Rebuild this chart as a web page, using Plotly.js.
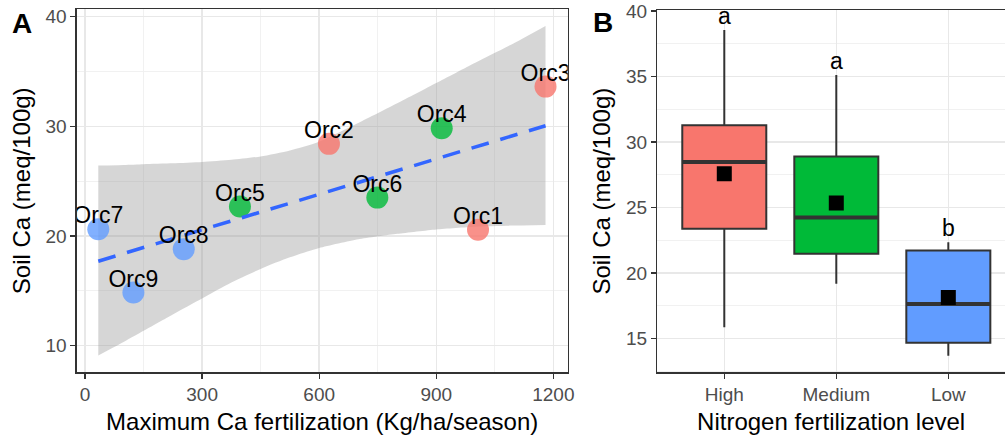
<!DOCTYPE html>
<html>
<head>
<meta charset="utf-8">
<script src="https://cdn.plot.ly/plotly-3.0.1.min.js"></script>
<style>html,body{margin:0;padding:0;background:#fff;overflow:hidden}#chart{width:1005px;height:437px}</style>
</head>
<body>
<div id="chart"></div>
<script>
// ---- Panel A data ----
const orchards = ['Orc1','Orc2','Orc3','Orc4','Orc5','Orc6','Orc7','Orc8','Orc9'];
const caFert   = [1007, 625, 1180, 914, 397, 749, 34, 253, 124];
const soilCa   = [20.56, 28.4, 33.62, 29.83, 22.68, 23.5, 20.62, 18.8, 14.84];
const orchardLevel = ['High','High','High','Medium','Medium','Medium','Low','Low','Low'];
const fitX = [34, 1180];
const fitY = [17.7, 30.05];
const bandX     = [34, 100, 150, 225, 300, 375, 450, 525, 600, 700, 800, 900, 1000, 1100, 1180];
const bandUpper = [26.42, 26.48, 26.55, 26.63, 26.75, 26.95, 27.25, 27.8, 28.6, 30.3, 32.1, 33.95, 35.8, 37.6, 39.15];
const bandLower = [9.1, 10.35, 11.35, 12.85, 14.3, 15.75, 17.0, 18.05, 18.9, 19.7, 20.2, 20.6, 20.85, 20.95, 21.0];
const xTicksA = [0, 300, 600, 900, 1200];
const yTicksA = [10, 20, 30, 40];

// ---- Panel B data ----
const levels = ['High','Medium','Low'];
const q1 = [23.36, 21.45, 14.66];
const medians = [28.47, 24.22, 17.63];
const q3 = [31.27, 28.88, 21.7];
const lowerWhisker = [15.85, 19.16, 13.66];
const upperWhisker = [38.55, 35.11, 22.34];
const means = [27.56, 25.34, 18.12];
const groupLetters = ['a', 'a', 'b'];
const yTicksB = [15, 20, 25, 30, 35, 40];

// ---- styles ----
const levelColors = {High: '#F8766D', Medium: '#00BA38', Low: '#619CFF'};
const FONT = 'Liberation Sans, Arial, Helvetica, sans-serif';
const boxWidth = 0.75;
const W = 1005, H = 437;
const px = (v) => v / W, py = (v) => 1 - v / H;

const traces = [];
// Confidence ribbon (lower edge, then upper edge filled down to it)
traces.push({
  x: bandX, y: bandLower, xaxis: 'x', yaxis: 'y', type: 'scatter', mode: 'lines',
  line: {width: 0, shape: 'spline', smoothing: 0.6}, hoverinfo: 'skip'
});
traces.push({
  x: bandX, y: bandUpper, xaxis: 'x', yaxis: 'y', type: 'scatter', mode: 'lines',
  fill: 'tonexty', fillcolor: 'rgba(153,153,153,0.4)',
  line: {width: 0, shape: 'spline', smoothing: 0.6}, hoverinfo: 'skip'
});
// Points
traces.push({
  x: caFert, y: soilCa, xaxis: 'x', yaxis: 'y', type: 'scatter', mode: 'markers',
  marker: {size: 22, color: orchardLevel.map(l => levelColors[l]), opacity: 0.8, line: {width: 0}}
});
// Regression line
traces.push({
  x: fitX, y: fitY, xaxis: 'x', yaxis: 'y', type: 'scatter', mode: 'lines',
  line: {color: '#3366FF', width: 3.5, dash: '18px,12px'}
});
// Labels
traces.push({
  x: caFert, y: soilCa, text: orchards, xaxis: 'x', yaxis: 'y', type: 'scatter', mode: 'text',
  textposition: 'top center', cliponaxis: true,
  textfont: {family: FONT, size: 23, color: '#000000'}
});

// Boxes
levels.forEach((lv, i) => {
  traces.push({
    type: 'box', xaxis: 'x2', yaxis: 'y2', x: [i],
    q1: [q1[i]], median: [medians[i]], q3: [q3[i]],
    lowerfence: [lowerWhisker[i]], upperfence: [upperWhisker[i]],
    width: boxWidth, whiskerwidth: 0, fillcolor: levelColors[lv],
    line: {color: '#333333', width: 2}, boxpoints: false, hoverinfo: 'skip'
  });
  traces.push({
    type: 'scatter', mode: 'lines', xaxis: 'x2', yaxis: 'y2',
    x: [i - boxWidth / 2, i + boxWidth / 2], y: [medians[i], medians[i]],
    line: {color: '#333333', width: 4}, hoverinfo: 'skip'
  });
});
// Means
traces.push({
  type: 'scatter', mode: 'markers', xaxis: 'x2', yaxis: 'y2',
  x: levels.map((_, i) => i), y: means,
  marker: {symbol: 'square', size: 15, color: '#000000'}
});
// Letters
traces.push({
  type: 'scatter', mode: 'text', xaxis: 'x2', yaxis: 'y2',
  x: levels.map((_, i) => i), y: upperWhisker, text: groupLetters,
  textposition: 'top center', cliponaxis: false,
  textfont: {family: FONT, size: 23, color: '#000000'}
});

const axCommon = {
  showline: true, linecolor: '#333333', linewidth: 1.3, mirror: true,
  ticks: 'outside', ticklen: 5, tickwidth: 1.3, tickcolor: '#333333',
  tickfont: {family: FONT, size: 19, color: '#4D4D4D'},
  showgrid: true, gridcolor: '#E8E8E8', gridwidth: 1.4, zeroline: false,
  fixedrange: true
};
const minorGrid = (d) => ({dtick: d, showgrid: true, gridcolor: '#F0F0F0', gridwidth: 0.9, ticklen: 0});

const layout = {
  width: W, height: H, margin: {l: 0, r: 0, t: 0, b: 0},
  paper_bgcolor: '#ffffff', plot_bgcolor: '#ffffff', showlegend: false,
  hovermode: false,
  font: {family: FONT},
  xaxis: Object.assign({}, axCommon, {
    domain: [px(76.7), px(567.7)], range: [-21.3, 1236.8],
    tickmode: 'array', tickvals: xTicksA, ticktext: xTicksA.map(String),
    minor: minorGrid(150), anchor: 'y',
    title: {text: 'Maximum Ca fertilization (Kg/ha/season)', font: {family: FONT, size: 24, color: '#000'}, standoff: 8}
  }),
  yaxis: Object.assign({}, axCommon, {
    domain: [py(372.3), py(9.3)], range: [7.57, 40.67],
    tickmode: 'array', tickvals: yTicksA, ticktext: yTicksA.map(String),
    minor: minorGrid(5), anchor: 'x',
    title: {text: 'Soil Ca (meq/100g)', font: {family: FONT, size: 24, color: '#000'}, standoff: 8}
  }),
  xaxis2: Object.assign({}, axCommon, {
    domain: [px(657.3), 1], range: [-0.598, 2.506],
    tickmode: 'array', tickvals: levels.map((_, i) => i), ticktext: levels,
    anchor: 'y2',
    title: {text: 'Nitrogen fertilization level', font: {family: FONT, size: 24, color: '#000'}, standoff: 8}
  }),
  yaxis2: Object.assign({}, axCommon, {
    domain: [py(372.3), py(10)], range: [12.405, 40.076], mirror: false,
    tickmode: 'array', tickvals: yTicksB, ticktext: yTicksB.map(String),
    minor: minorGrid(2.5), anchor: 'x2',
    title: {text: 'Soil Ca (meq/100g)', font: {family: FONT, size: 24, color: '#000'}, standoff: 8}
  }),
  boxmode: 'overlay',
  annotations: [
    {text: '<b>A</b>', xref: 'paper', yref: 'paper', x: px(21.5), y: py(23.5), xanchor: 'center', yanchor: 'middle', showarrow: false, font: {family: FONT, size: 28, color: '#000'}},
    {text: '<b>B</b>', xref: 'paper', yref: 'paper', x: px(603), y: py(22.5), xanchor: 'center', yanchor: 'middle', showarrow: false, font: {family: FONT, size: 28, color: '#000'}}
  ]
};

Plotly.newPlot('chart', traces, layout, {displayModeBar: false, staticPlot: true});
</script>
</body>
</html>
